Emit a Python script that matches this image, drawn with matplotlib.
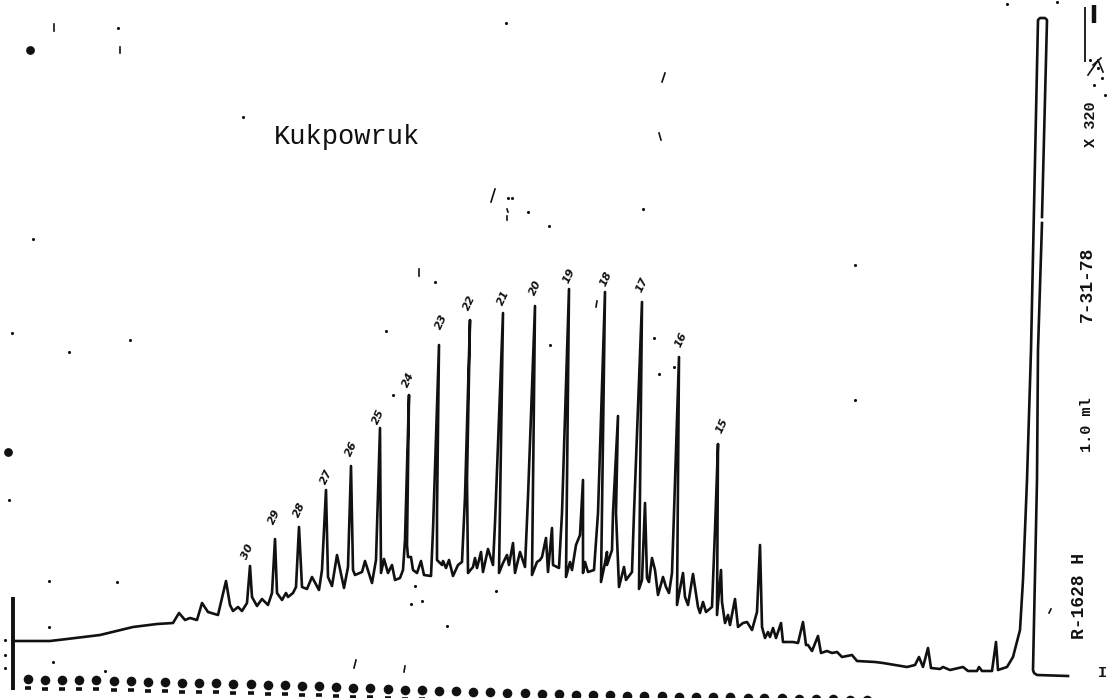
import matplotlib
matplotlib.use("Agg")
import matplotlib.pyplot as plt

nan = float("nan")
# Trace: position along chart, pen level (scan rows, downward)
trace_x = [13,50,67,100,133,157,173,179,185,190,197,202,208,218,226,230,233,238,242,247,250,252,257,262,268,272,275,277,282,286,288,293,296,299,302,307,312,319,322,326,328,332,337,344,348,351,353,355,362,365,372,376,380,381,384,388,392,395,400,403,405,409,407,408,411,413,417,421,424,431,433,439,437,437,442,443,446,449,453,458,462,465,470,467,468,473,475,477,481,483,488,493,495,503,499,503,507,509,513,515,520,525,528,535,532,537,540,542,546,548,552,553,559,562,569,566,570,572,576,580,583,583,585,588,594,598,605,601,605,607,607,612,613,618,616,619,624,626,632,634,642,639,642,645,647,649,652,655,658,663,666,669,672,674,679,677,683,685,688,693,698,700,703,706,712,715,718,717,721,722,725,728,730,735,738,743,747,752,757,760,762,765,768,770,773,776,781,783,793,798,803,806,808,812,818,821,827,832,837,842,852,857,875,883,907,915,919,923,928,931,940,943,950,963,968,977,979,982,992,996,998,1007,1013,1020,1023,1027,1031,1038,1040,1045,1047,1042,nan,1042,1038,1037,1033,1034,1037,1068]
trace_y = [641,641,639,635,627,624,623,613,620,618,620,603,612,615,581,605,611,607,611,603,566,597,606,599,605,593,539,593,600,593,597,593,587,527,587,589,577,590,570,490,577,586,555,588,567,466,570,575,572,561,583,560,428,573,559,573,565,580,578,570,540,395,545,557,557,570,573,561,575,576,530,345,513,560,565,561,568,560,576,565,562,497,320,480,573,567,558,568,552,572,549,565,523,313,573,563,555,565,543,573,552,567,497,306,575,562,560,557,538,572,528,565,568,513,289,577,562,570,545,535,480,573,562,572,570,513,292,582,563,552,565,550,513,416,513,587,567,580,572,513,302,589,580,503,578,582,558,570,595,577,587,593,573,513,357,605,573,597,605,574,607,613,602,612,607,530,444,615,570,602,623,615,625,599,627,623,622,630,612,545,627,638,632,637,628,638,623,642,642,643,622,645,645,651,636,653,651,653,652,657,655,661,662,663,667,665,657,667,648,668,669,667,670,667,671,671,667,671,671,642,670,667,657,630,580,480,350,20,18,18,20,217,nan,223,350,480,670,673,675,676]

sample_text = "Kukpowruk"
margin_notes = ["X 320", "7-31-78", "1.0 ml", "R-1628 H"]
note_size = [11, 13, 11, 13]
note_x = [1091, 1087, 1087, 1079]
note_y = [124, 284, 425, 596]

carbon_labels = ["30","29","28","27","26","25","24","23","22","21","20","19","18","17","16","15"]
label_x = [248,274,299,326,351,378,408,441,469,503,535,569,606,642,681,722]
label_y = [552,517,510,477,449,417,380,322,303,298,288,276,279,285,340,426]

hole_x = [28,45,62,79,96,114,131,148,165,182,199,216,233,251,268,285,302,319,336,353,370,388,405,422,439,456,473,490,507,525,542,559,576,593,610,627,644,662,679,696,713,730,748,764,782,799,816,833,850,867]
hole_y = [679,680,680,680,680,681,681,682,682,683,683,683,684,684,685,685,686,686,687,688,688,689,690,690,691,691,692,692,693,693,694,694,695,695,695,696,696,696,697,697,697,697,698,698,698,699,699,699,700,700]

speck_x = [118,243,33,12,130,69,506,508,512,528,549,643,855,855,386,435,654,674,659,550,393,49,117,9,49,53,105,415,411,422,447,496,5,5,5,1057,1007,1090,1098,1102,1094,1105]
speck_y = [28,117,239,333,340,352,23,198,198,212,226,209,265,400,331,282,338,367,374,345,395,581,582,500,627,662,671,586,604,601,626,591,640,655,668,2,4,60,68,78,85,95]

blob_x = [30, 8]
blob_y = [50, 452]

slash_x0 = [54,120,662,659,491,507,507,419,596,1049,354,404,1088,1093,1098]
slash_y0 = [24,47,82,133,202,209,216,269,307,613,668,672,75,65,60]
slash_x1 = [54,120,665,661,495,508,507,419,597,1051,356,405,1097,1101,1103]
slash_y1 = [31,53,73,140,189,212,220,276,301,609,660,666,62,58,72]

fig = plt.figure(figsize=(11.07, 6.98), dpi=100, facecolor="white")
ax = fig.add_axes([0, 0, 1, 1])
ax.set_xlim(0, 1107)
ax.set_ylim(698, 0)
ax.axis("off")

ink = "#111111"
ax.plot(trace_x, trace_y, color=ink, lw=1.9, solid_joinstyle="round")
ax.vlines([13], [597], [690], color=ink, lw=2.8)
ax.vlines([1085], [7], [62], color=ink, lw=1.3)
ax.vlines([1094], [5], [23], color=ink, lw=3.2)
ax.scatter(hole_x, hole_y, s=48, marker="o", color=ink, linewidths=0)
ax.scatter(hole_x, [v + 9 for v in hole_y], s=22, marker="_", color=ink, linewidths=2.6)
ax.scatter(speck_x, speck_y, s=5, marker="o", color=ink, linewidths=0)
ax.scatter(blob_x, blob_y, s=40, marker="o", color=ink, linewidths=0)
for x0, y0, x1, y1 in zip(slash_x0, slash_y0, slash_x1, slash_y1):
    ax.plot([x0, x1], [y0, y1], color=ink, lw=1.2)

ax.text(274, 137, sample_text, family="Liberation Mono", fontsize=19.5, color=ink, ha="left", va="center")
for s, x, y, fs in zip(margin_notes, note_x, note_y, note_size):
    ax.text(x, y, s, rotation=90, ha="center", va="center", family="Liberation Mono",
            fontsize=fs, fontweight="bold", color=ink)
for s, x, y in zip(carbon_labels, label_x, label_y):
    ax.text(x, y, s, rotation=65, ha="center", va="center", family="DejaVu Sans",
            fontsize=8, fontstyle="italic", fontweight="bold", color=ink)
ax.text(1102, 673, "I", ha="center", va="center", family="Liberation Mono", fontsize=11,
        fontweight="bold", color=ink)

fig.savefig("out.png", dpi=100, facecolor="white")
